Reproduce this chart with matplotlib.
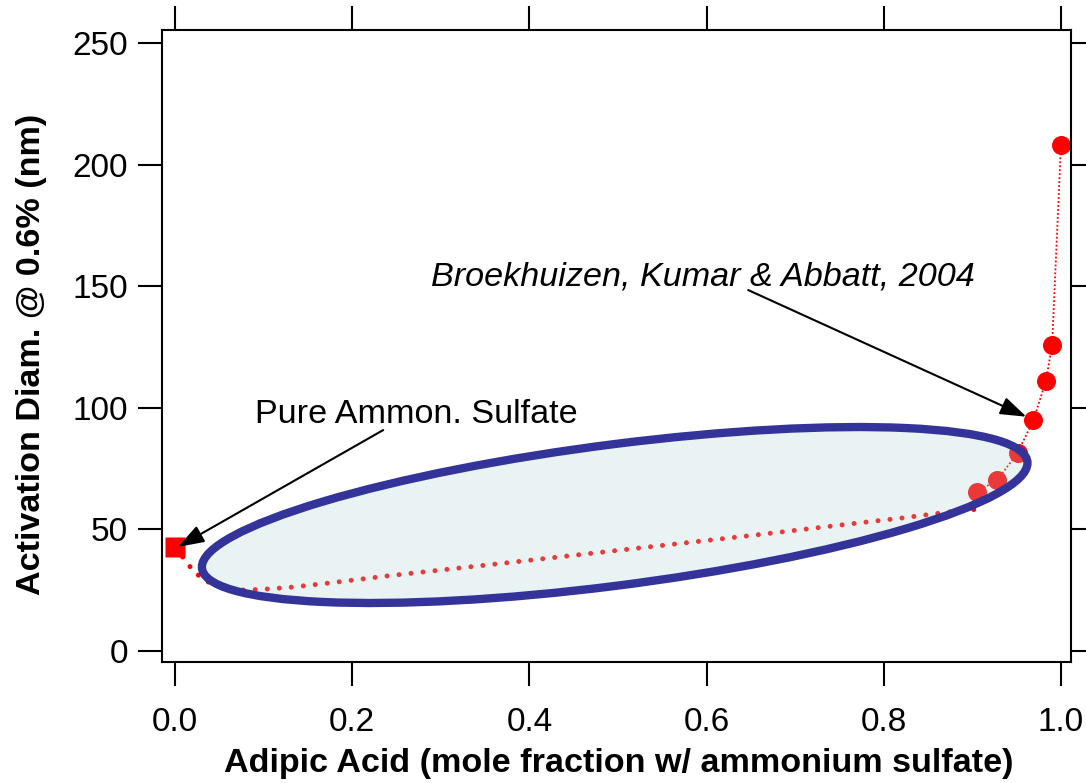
import matplotlib
matplotlib.use('Agg')
import matplotlib.pyplot as plt
from matplotlib.patches import Ellipse
from matplotlib.transforms import Affine2D

plt.rcParams['font.family'] = ['Liberation Sans', 'DejaVu Sans']

# ---- data ----
pure_as_x = [0.0]
pure_as_y = [42.8]

bka_x = [0.905, 0.928, 0.951, 0.969, 0.983, 0.990, 1.000]
bka_y = [65.5, 70.3, 81.5, 95.0, 111.1, 125.8, 208.2]

model_x = [0.0, 0.009, 0.017, 0.026, 0.037, 0.049, 0.062, 0.077, 0.10, 0.13,
           0.17, 0.24, 0.31, 0.37, 0.50, 0.65, 0.76, 0.82, 0.88, 0.91]
model_y = [42.5, 38.5, 34.7, 31.3, 28.5, 26.5, 25.5, 25.1, 25.4, 26.2,
           27.8, 30.9, 33.7, 36.1, 41.4, 47.5, 52.2, 54.7, 57.5, 58.5]

xticks = [0.0, 0.2, 0.4, 0.6, 0.8, 1.0]
xticklabels = ['0.0', '0.2', '0.4', '0.6', '0.8', '1.0']
yticks = [0, 50, 100, 150, 200, 250]
yticklabels = ['0', '50', '100', '150', '200', '250']

# highlight ellipse (data units): centre and two conjugate semi-axes
ell_center = (0.4963, 55.95)
ell_u = (0.4659, 21.39)
ell_v = (0.0, 29.2)

fig = plt.figure(figsize=(10.86, 7.83), dpi=100)
W, H = 1086, 783
L, R, T, B = 161.7, 1070.7, 30.0, 661.7
ax = fig.add_axes([L / W, 1 - B / H, (R - L) / W, (B - T) / H])
ax.set_xlim(-0.015, 1.011)
ax.set_ylim(-4.4, 255.5)

# model curve (big dots)
ax.plot(model_x, model_y, color='#ff0000', lw=3.6, linestyle=(0, (0.01, 2.4)),
        dash_capstyle='round', zorder=2)
# data connecting line (fine dots)
ax.plot(bka_x, bka_y, color='#ff0000', lw=1.3, linestyle=(0, (1, 1.2)), zorder=2)
ax.plot(bka_x, bka_y, linestyle='none', marker='o', ms=13.7, color='#ff0000',
        mec='none', zorder=2)
ax.plot(pure_as_x, pure_as_y, linestyle='none', marker='s', ms=14.4,
        color='#ff0000', mec='none', zorder=5, clip_on=False)

# ellipse
tr = Affine2D.from_values(ell_u[0], ell_u[1], ell_v[0], ell_v[1],
                          ell_center[0], ell_center[1]) + ax.transData
ax.add_patch(Ellipse((0, 0), 2, 2, transform=tr,
                     facecolor=(0.69, 0.83, 0.84, 0.27), edgecolor='none', zorder=3))
ax.add_patch(Ellipse((0, 0), 2, 2, transform=tr,
                     facecolor='none', edgecolor='#333399', lw=6.0, zorder=3))

# annotations
arrow = dict(arrowstyle='-|>,head_length=1.6,head_width=0.55', mutation_scale=10,
             color='black', lw=1.5, shrinkA=0, shrinkB=0)
ax.annotate('', xy=(0.0034, 42.8), xytext=(0.235, 90.9), arrowprops=arrow, zorder=6)
ax.annotate('', xy=(0.961, 96.4), xytext=(0.647, 148.5), arrowprops=arrow, zorder=6)
ax.text(0.090, 93.8, 'Pure Ammon. Sulfate', fontsize=24.6, ha='left', va='baseline')
ax.text(0.289, 150.2, 'Broekhuizen, Kumar & Abbatt, 2004', fontsize=24.6,
        style='italic', ha='left', va='baseline')

ax.set_xticks(xticks)
ax.set_xticklabels(xticklabels)
ax.set_yticks(yticks)
ax.set_yticklabels(yticklabels)
ax.tick_params(direction='out', length=17.3, width=1.5, labelsize=24,
               top=True, right=True, labeltop=False, labelright=False)
ax.tick_params(axis='y', pad=7)
ax.tick_params(axis='x', pad=15)
for s in ax.spines.values():
    s.set_linewidth(1.5)

ax.set_xlabel('Adipic Acid (mole fraction w/ ammonium sulfate)', fontsize=24.6,
              fontweight='bold')
ax.set_ylabel('Activation Diam. @ 0.6% (nm)', fontsize=24.6, fontweight='bold')
ax.xaxis.set_label_coords(0.503, -0.137)
ax.yaxis.set_label_coords(-0.126, 0.487)

fig.savefig('out.png', dpi=100)
